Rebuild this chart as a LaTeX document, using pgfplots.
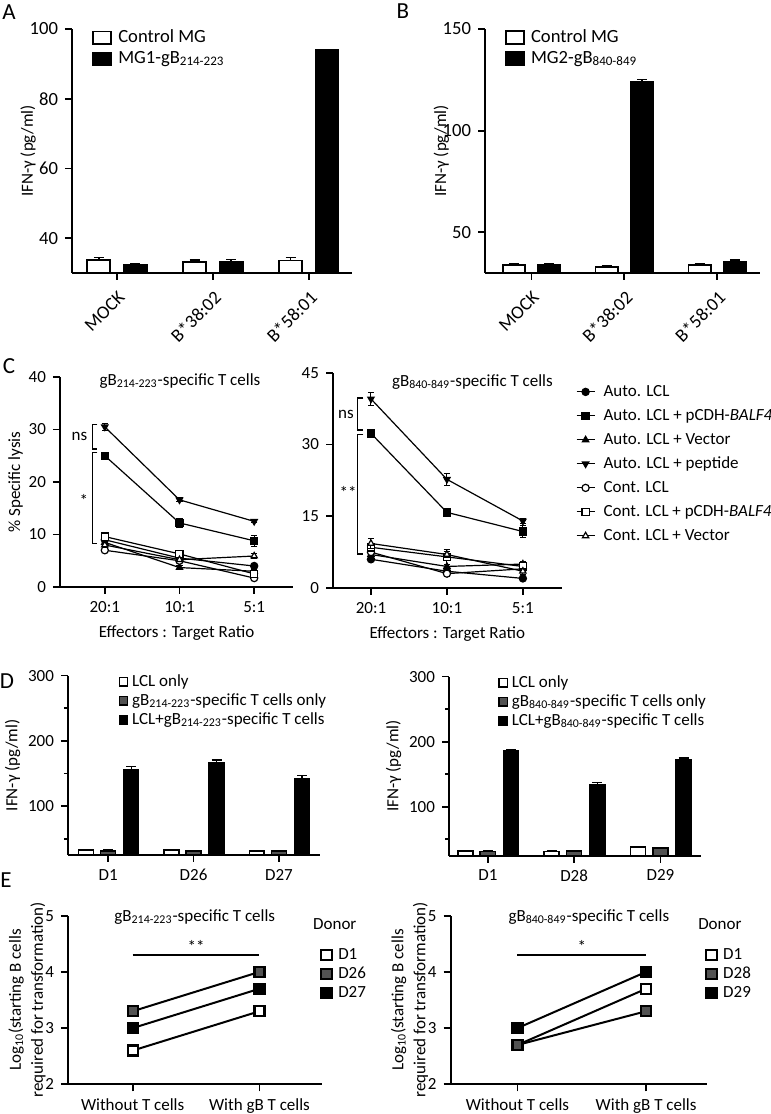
\documentclass[border=0pt]{standalone}
\usepackage{fontspec}
\setmainfont{Carlito}
\setsansfont{Carlito}
\usepackage{pgfplots}
\pgfplotsset{compat=1.18}

\definecolor{dgray}{gray}{0.32}
\newcommand{\fs}{\fontsize{8.5}{10}\selectfont}
\newcommand{\fa}{\fontsize{9.3}{11}\selectfont}
\newcommand{\fl}{\fontsize{11.5}{13}\selectfont}
% legend images
\newcommand{\abimg}[1]{\addlegendimage{legend image code/.code={\draw[line width=0.9pt,fill=#1] (0pt,-3.2pt) rectangle (9pt,3.2pt);\path[draw=none] (0pt,0pt) -- (12pt,0pt);}}}
\newcommand{\dimg}[1]{\addlegendimage{legend image code/.code={\draw[line width=0.7pt,fill=#1] (0pt,-2.1pt) rectangle (4.2pt,2.1pt);\path[draw=none] (0pt,0pt) -- (6pt,0pt);}}}
\newcommand{\eimg}[1]{\addlegendimage{legend image code/.code={\draw[line width=0.9pt,fill=#1] (0pt,-2.6pt) rectangle (5.2pt,2.6pt);\path[draw=none] (0pt,0pt) -- (8pt,0pt);}}}

\pgfplotsset{
  gp/.style={
    scale only axis, anchor=south west, clip mode=individual,
    axis lines*=left, axis line style={-, line width=1pt},
    tick align=outside, tick style={black, line width=0.9pt},
    major tick length=3.5pt, minor tick length=2pt,
    /pgf/number format/assume math mode=true,
    tick label style={font=\fs}, label style={font=\fs},
    legend cell align=left,
    legend style={draw=none, fill=none, font=\fs, anchor=north west,
      nodes={inner sep=0.5pt, text height=6.5pt, text depth=2pt}, row sep=0pt},
  },
  barpl/.style={ybar, bar shift=0pt, draw=black, line width=0.9pt, forget plot,
    error bars/y dir=plus, error bars/y explicit,
    error bars/error bar style={line width=0.7pt},
    error bars/error mark options={rotate=90, mark size=2.5pt, line width=0.7pt}},
  cl/.style={black, line width=0.6pt, mark size=1.8pt,
    error bars/y dir=both, error bars/y explicit,
    error bars/error bar style={line width=0.5pt},
    error bars/error mark options={rotate=90, mark size=1.6pt, line width=0.5pt}},
  el/.style={black, line width=1pt, mark=square*, mark size=2.5pt, forget plot},
}

\begin{document}
\begin{tikzpicture}
\useasboundingbox (0,0) rectangle (385.5pt,557pt);

% panel letters
\node[font=\fl] at (4.5pt,551pt) {A};
\node[font=\fl] at (201.5pt,551.5pt) {B};
\node[font=\fl] at (4.5pt,374pt) {C};
\node[font=\fl] at (3.5pt,216.5pt) {D};
\node[font=\fl] at (3pt,117pt) {E};

% ---------- A ----------
\begin{axis}[gp, at={(36pt,420.5pt)}, width=140pt, height=122pt,
  xmin=-0.47, xmax=2.45, ymin=30, ymax=100, ytick={40,60,80,100},
  xtick={0,1,2}, xticklabels={MOCK,B*38:02,B*58:01},
  tick label style={font=\fa},
  xticklabel style={rotate=45, anchor=north east},
  ylabel={IFN-γ (pg/ml)}, ylabel shift=-10pt,
  legend style={at={(0.05,1.025)}, font=\fa,
    nodes={inner sep=0.5pt, text height=7pt, text depth=2.5pt}}]
\addplot[barpl, fill=white, bar width=0.24]
  coordinates {(-0.19,33.7) +- (0,0.8) (0.81,33.2) +- (0,0.5) (1.81,33.6) +- (0,0.8)};
\addplot[barpl, fill=black, bar width=0.24]
  coordinates {(0.19,32.2) +- (0,0.6) (1.19,33.1) +- (0,0.8) (2.19,94.0) +- (0,0.2)};
\abimg{white}\addlegendentry{Control MG}
\abimg{black}\addlegendentry{MG1-gB\textsubscript{214-223}}
\end{axis}

% ---------- B ----------
\begin{axis}[gp, at={(242.5pt,420.5pt)}, width=137.5pt, height=122pt,
  xmin=-0.5, xmax=2.46, ymin=30, ymax=150, ytick={50,100,150},
  xtick={0,1,2}, xticklabels={MOCK,B*38:02,B*58:01},
  tick label style={font=\fa},
  xticklabel style={rotate=45, anchor=north east},
  ylabel={IFN-γ (pg/ml)}, ylabel shift=-10pt,
  legend style={at={(0.05,1.025)}, font=\fa,
    nodes={inner sep=0.5pt, text height=7pt, text depth=2.5pt}}]
\addplot[barpl, fill=white, bar width=0.24]
  coordinates {(-0.19,34.0) +- (0,0.8) (0.81,33.0) +- (0,0.6) (1.81,34.0) +- (0,0.5)};
\addplot[barpl, fill=black, bar width=0.24]
  coordinates {(0.19,34.0) +- (0,0.8) (1.19,124.2) +- (0,1.0) (2.19,35.5) +- (0,0.8)};
\abimg{white}\addlegendentry{Control MG}
\abimg{black}\addlegendentry{MG2-gB\textsubscript{840-849}}
\end{axis}

% ---------- C left ----------
\begin{axis}[gp, at={(30pt,263.5pt)}, width=116.5pt, height=105pt,
  xmin=-0.6, xmax=2.52, ymin=0, ymax=40, ytick={0,10,20,30,40},
  xtick={0,1,2}, xticklabels={20:1,10:1,5:1},
  xlabel={Effectors : Target Ratio}, ylabel={\% Specific lysis}, ylabel shift=-4pt]
\addplot[cl, mark=*] coordinates {(0,9.0) +- (0,0.4) (1,5.5) +- (0,0.5) (2,4.0) +- (0,0.4)};
\addplot[cl, mark=square*] coordinates {(0,25.0) +- (0,0.5) (1,12.2) +- (0,0.8) (2,8.8) +- (0,1.0)};
\addplot[cl, mark=triangle*] coordinates {(0,8.5) +- (0,0.4) (1,3.7) +- (0,0.4) (2,3.0) +- (0,0.4)};
\addplot[cl, mark=triangle*, mark options={rotate=180}] coordinates {(0,30.5) +- (0,0.7) (1,16.6) +- (0,0.4) (2,12.5) +- (0,0.3)};
\addplot[cl, mark=*, mark options={fill=white}] coordinates {(0,7.0) +- (0,0.4) (1,5.0) +- (0,0.4) (2,1.7) +- (0,0.4)};
\addplot[cl, mark=square*, mark options={fill=white}] coordinates {(0,9.6) +- (0,0.4) (1,6.3) +- (0,0.5) (2,2.5) +- (0,0.5)};
\addplot[cl, mark=triangle*, mark options={fill=white}] coordinates {(0,8.0) +- (0,0.4) (1,5.2) +- (0,0.4) (2,5.9) +- (0,0.4)};
\node[font=\fs] at (axis description cs:0.515,0.98) {gB\textsubscript{214-223}-specific T cells};
\draw[line width=0.6pt] (axis cs:-0.1,31) -- (axis cs:-0.17,31) -- (axis cs:-0.17,26.3) -- (axis cs:-0.1,26.3);
\node[font=\fs] at (axis cs:-0.34,28.6) {ns};
\draw[line width=0.6pt] (axis cs:-0.1,25.6) -- (axis cs:-0.17,25.6) -- (axis cs:-0.17,8.3) -- (axis cs:-0.1,8.3);
\node[font=\fs] at (axis cs:-0.28,16.4) {*};
\end{axis}

% ---------- C right ----------
\begin{axis}[gp, at={(166.5pt,263pt)}, width=114.3pt, height=107.7pt,
  xmin=-0.5, xmax=2.51, ymin=0, ymax=45, ytick={0,15,30,45},
  xtick={0,1,2}, xticklabels={20:1,10:1,5:1},
  xlabel={Effectors : Target Ratio},
  legend style={at={(1.035,0.975)}, row sep=2.5pt},
  legend image code/.code={\draw[black, line width=0.6pt] (0pt,0pt) -- (9pt,0pt);\draw[#1] plot coordinates {(4.5pt,0pt)};\path[draw=none] (0pt,0pt) -- (13pt,0pt);}]
\addplot[cl, mark=*] coordinates {(0,6.0) +- (0,0.4) (1,3.5) +- (0,0.5) (2,2.0) +- (0,0.5)};
\addlegendentry{Auto. LCL}
\addplot[cl, mark=square*] coordinates {(0,32.3) +- (0,0.5) (1,15.8) +- (0,0.4) (2,11.8) +- (0,1.2)};
\addlegendentry{Auto. LCL + pCDH-\textit{BALF4}}
\addplot[cl, mark=triangle*] coordinates {(0,7.0) +- (0,0.5) (1,4.5) +- (0,0.5) (2,5.0) +- (0,0.6)};
\addlegendentry{Auto. LCL + Vector}
\addplot[cl, mark=triangle*, mark options={rotate=180}] coordinates {(0,39.5) +- (0,1.4) (1,22.7) +- (0,1.2) (2,14.0) +- (0,0.6)};
\addlegendentry{Auto. LCL + peptide}
\addplot[cl, mark=*, mark options={fill=white}] coordinates {(0,7.5) +- (0,0.5) (1,3.0) +- (0,0.5) (2,4.0) +- (0,0.6)};
\addlegendentry{Cont. LCL}
\addplot[cl, mark=square*, mark options={fill=white}] coordinates {(0,8.5) +- (0,0.6) (1,6.5) +- (0,1.5) (2,4.5) +- (0,0.6)};
\addlegendentry{Cont. LCL + pCDH-\textit{BALF4}}
\addplot[cl, mark=triangle*, mark options={fill=white}] coordinates {(0,9.3) +- (0,1.0) (1,7.0) +- (0,0.6) (2,3.5) +- (0,0.6)};
\addlegendentry{Cont. LCL + Vector}
\node[font=\fs] at (axis description cs:0.61,0.958) {gB\textsubscript{840-849}-specific T cells};
\draw[line width=0.6pt] (axis cs:-0.1,39.7) -- (axis cs:-0.18,39.7) -- (axis cs:-0.18,33.0) -- (axis cs:-0.1,33.0);
\node[font=\fs] at (axis cs:-0.33,36.3) {ns};
\draw[line width=0.6pt] (axis cs:-0.1,32.0) -- (axis cs:-0.18,32.0) -- (axis cs:-0.18,7.1) -- (axis cs:-0.1,7.1);
\node[font=\fs] at (axis cs:-0.3,19.9) {**};
\end{axis}

% ---------- D left ----------
\begin{axis}[gp, at={(34pt,129.5pt)}, width=126pt, height=89.7pt,
  xmin=-0.47, xmax=2.48, ymin=25, ymax=300,
  ytick={100,200,300}, minor ytick={50,150,250},
  xtick={0,1,2}, xticklabels={D1,D26,D27},
  ylabel={IFN-γ (pg/ml)}, ylabel shift=-3pt,
  legend style={at={(0.175,1.043)}}]
\addplot[barpl, fill=white, bar width=0.175, line width=0.8pt]
  coordinates {(-0.26,32.7) +- (0,1.0) (0.74,32.5) +- (0,1.0) (1.74,31.5) +- (0,0.8)};
\addplot[barpl, fill=dgray, bar width=0.175, line width=0.8pt]
  coordinates {(0,31.5) +- (0,1.0) (1,31.5) +- (0,0.8) (2,31.0) +- (0,0.8)};
\addplot[barpl, fill=black, bar width=0.175, line width=0.8pt]
  coordinates {(0.27,155) +- (0,6) (1.27,165.6) +- (0,5) (2.27,142) +- (0,5)};
\dimg{white}\addlegendentry{LCL only}
\dimg{dgray}\addlegendentry{gB\textsubscript{214-223}-specific T cells only}
\dimg{black}\addlegendentry{LCL+gB\textsubscript{214-223}-specific T cells}
\end{axis}

% ---------- D right ----------
\begin{axis}[gp, at={(224.5pt,129.2pt)}, width=126pt, height=89.5pt,
  xmin=-0.45, xmax=2.47, ymin=25, ymax=300,
  ytick={100,200,300}, minor ytick={50,150,250},
  xtick={0,1,2}, xticklabels={D1,D28,D29},
  ylabel={IFN-γ (pg/ml)}, ylabel shift=-3pt,
  legend style={at={(0.17,1.043)}}]
\addplot[barpl, fill=white, bar width=0.175, line width=0.8pt]
  coordinates {(-0.26,32.0) +- (0,0.8) (0.74,31.0) +- (0,0.8) (1.74,38.0) +- (0,0.8)};
\addplot[barpl, fill=dgray, bar width=0.175, line width=0.8pt]
  coordinates {(0,31.0) +- (0,0.8) (1,32.0) +- (0,0.8) (2,37.0) +- (0,0.8)};
\addplot[barpl, fill=black, bar width=0.175, line width=0.8pt]
  coordinates {(0.27,186) +- (0,2) (1.27,134) +- (0,3) (2.27,172) +- (0,3)};
\dimg{white}\addlegendentry{LCL only}
\dimg{dgray}\addlegendentry{gB\textsubscript{840-849}-specific T cells only}
\dimg{black}\addlegendentry{LCL+gB\textsubscript{840-849}-specific T cells}
\end{axis}

% ---------- E left ----------
\begin{axis}[gp, at={(34pt,14.85pt)}, width=126.8pt, height=84.3pt,
  xmin=-0.51, xmax=1.49, ymin=2, ymax=5, ytick={2,3,4,5},
  xtick={0,1}, xticklabels={Without T cells,With gB T cells},
  ylabel={Log\textsubscript{10}(starting B cells\\required for transformation)},
  ylabel style={align=center, font=\fontsize{8.5}{11}\selectfont}, ylabel shift=-7pt,
  legend style={at={(0.97,0.85)}}]
\addplot[el, mark options={fill=white, line width=1.1pt}] coordinates {(0,2.6) (1,3.3)};
\addplot[el, mark options={fill=dgray, line width=1.1pt}] coordinates {(0,3.3) (1,4.0)};
\addplot[el, mark options={fill=black, line width=1.1pt}] coordinates {(0,3.0) (1,3.7)};
\node[font=\fs] at (axis description cs:0.5,0.994) {gB\textsubscript{214-223}-specific T cells};
\draw[line width=0.8pt] (axis cs:0,4.3) -- (axis cs:1,4.3);
\node[font=\fs] at (axis cs:0.5,4.45) {**};
\node[font=\fs] at (axis description cs:1.052,0.949) {Donor};
\eimg{white}\addlegendentry{D1}
\eimg{dgray}\addlegendentry{D26}
\eimg{black}\addlegendentry{D27}
\end{axis}

% ---------- E right ----------
\begin{axis}[gp, at={(225.3pt,14.85pt)}, width=128pt, height=84.3pt,
  xmin=-0.52, xmax=1.47, ymin=2, ymax=5, ytick={2,3,4,5},
  xtick={0,1}, xticklabels={Without T cells,With gB T cells},
  ylabel={Log\textsubscript{10}(starting B cells\\required for transformation)},
  ylabel style={align=center, font=\fontsize{8.5}{11}\selectfont}, ylabel shift=-7pt,
  legend style={at={(0.97,0.85)}}]
\addplot[el, mark options={fill=white, line width=1.1pt}] coordinates {(0,2.7) (1,3.7)};
\addplot[el, mark options={fill=dgray, line width=1.1pt}] coordinates {(0,2.7) (1,3.3)};
\addplot[el, mark options={fill=black, line width=1.1pt}] coordinates {(0,3.0) (1,4.0)};
\node[font=\fs] at (axis description cs:0.54,0.994) {gB\textsubscript{840-849}-specific T cells};
\draw[line width=0.8pt] (axis cs:0,4.3) -- (axis cs:1,4.3);
\node[font=\fs] at (axis cs:0.5,4.45) {*};
\node[font=\fs] at (axis description cs:1.052,0.949) {Donor};
\eimg{white}\addlegendentry{D1}
\eimg{dgray}\addlegendentry{D28}
\eimg{black}\addlegendentry{D29}
\end{axis}
\end{tikzpicture}
\end{document}
